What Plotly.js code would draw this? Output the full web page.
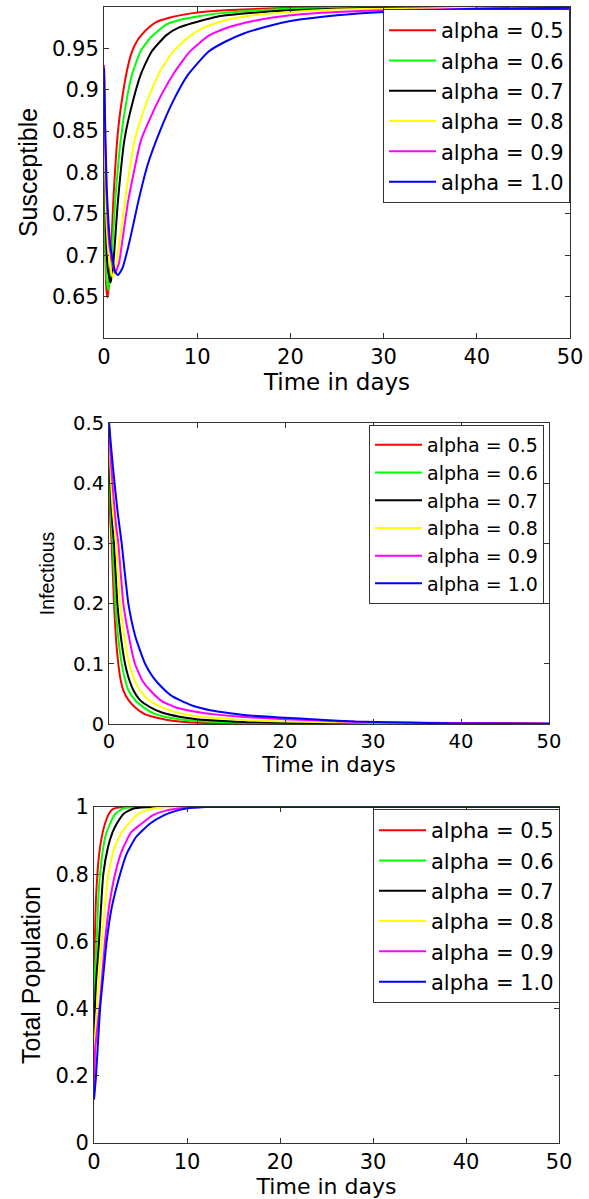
<!DOCTYPE html>
<html>
<head>
<meta charset="utf-8">
<script src="https://cdn.plot.ly/plotly-3.0.1.min.js"></script>
<style>
html,body{margin:0;padding:0;background:#fff;}
#chart{width:589px;height:1199px;}
</style>
</head>
<body>
<div id="chart"></div>
<script>
// ---------- Data ----------
const seriesNames = ["alpha = 0.5", "alpha = 0.6", "alpha = 0.7", "alpha = 0.8", "alpha = 0.9", "alpha = 1.0"];
const seriesColors = ["#ff0000", "#00ff00", "#000000", "#ffff00", "#ff00ff", "#0000ff"];

// Susceptible
const tS05 = [0, 0.05, 0.15, 0.25, 0.36, 0.5, 0.75, 1.0, 1.5, 1.9, 2.5, 3, 3.5, 4, 5, 5.65, 7, 9.2, 11.4, 15, 20, 30, 50];
const S05  = [0.93, 0.80, 0.70, 0.66, 0.649, 0.66, 0.70, 0.766, 0.85, 0.886, 0.925, 0.946, 0.958, 0.966, 0.977, 0.982, 0.987, 0.992, 0.995, 0.997, 0.999, 1.0, 1.0];
const tS06 = [0, 0.05, 0.15, 0.3, 0.46, 0.7, 1.0, 1.2, 1.8, 2.4, 3, 3.9, 5, 6.7, 8, 10.3, 12, 15, 20, 30, 50];
const S06  = [0.93, 0.82, 0.72, 0.67, 0.658, 0.68, 0.73, 0.766, 0.84, 0.886, 0.918, 0.946, 0.963, 0.979, 0.984, 0.989, 0.992, 0.995, 0.998, 0.999, 1.0];
const tS07 = [0, 0.05, 0.2, 0.45, 0.72, 1.0, 1.5, 2.2, 3.1, 4, 5.1, 6.7, 8, 10.3, 12, 15, 20, 30, 50];
const S07  = [0.93, 0.84, 0.73, 0.68, 0.667, 0.69, 0.766, 0.84, 0.886, 0.92, 0.946, 0.966, 0.975, 0.983, 0.988, 0.992, 0.996, 0.999, 1.0];
const tS08 = [0, 0.05, 0.2, 0.5, 0.93, 1.3, 1.7, 2.25, 3.3, 4.6, 6, 7.4, 9, 10.7, 13, 16, 20, 25, 30, 40, 50];
const S08  = [0.93, 0.86, 0.76, 0.70, 0.673, 0.69, 0.72, 0.766, 0.84, 0.886, 0.922, 0.946, 0.963, 0.975, 0.984, 0.99, 0.994, 0.997, 0.998, 0.999, 1.0];
const tS09 = [0, 0.05, 0.25, 0.6, 1.18, 1.6, 2.0, 2.6, 4, 5.8, 7.5, 9.2, 11.2, 13, 16, 20, 25, 30, 40, 50];
const S09  = [0.93, 0.88, 0.78, 0.71, 0.679, 0.69, 0.72, 0.766, 0.84, 0.886, 0.92, 0.946, 0.965, 0.974, 0.983, 0.99, 0.994, 0.996, 0.998, 0.999];
const tS10 = [0, 0.1, 0.3, 0.7, 1.2, 1.5, 2.0, 2.6, 3.2, 3.7, 4.7, 6, 7.4, 9, 11.2, 13, 15, 18, 20, 25, 30, 35, 40, 50];
const S10  = [0.926, 0.87, 0.78, 0.71, 0.68, 0.676, 0.685, 0.71, 0.74, 0.766, 0.81, 0.85, 0.886, 0.918, 0.946, 0.958, 0.968, 0.978, 0.983, 0.99, 0.994, 0.996, 0.998, 0.999];

// Infectious
const tI05 = [0, 0.05, 0.15, 0.3, 0.57, 0.8, 1.06, 1.3, 1.63, 2.2, 2.95, 4, 5, 6.5, 8, 10, 15, 50];
const I05  = [0.5, 0.4, 0.34, 0.3, 0.2, 0.14, 0.1, 0.075, 0.056, 0.04, 0.028, 0.017, 0.012, 0.007, 0.004, 0.002, 0.001, 0.0001];
const tI06 = [0, 0.08, 0.2, 0.42, 0.72, 1.0, 1.44, 1.8, 2.2, 3, 3.9, 5, 6.3, 8, 10, 13, 20, 50];
const I06  = [0.5, 0.41, 0.35, 0.3, 0.2, 0.15, 0.1, 0.075, 0.056, 0.039, 0.028, 0.018, 0.012, 0.008, 0.005, 0.003, 0.001, 0.0002];
const tI07 = [0, 0.1, 0.3, 0.57, 0.95, 1.3, 1.82, 2.2, 2.77, 3.5, 4.66, 6, 8, 10, 13, 16, 20, 30, 50];
const I07  = [0.5, 0.42, 0.35, 0.3, 0.2, 0.15, 0.1, 0.078, 0.056, 0.04, 0.028, 0.019, 0.012, 0.008, 0.005, 0.003, 0.002, 0.001, 0.0003];
const tI08 = [0, 0.15, 0.4, 0.8, 1.25, 1.7, 2.3, 2.9, 3.5, 4.5, 6, 8, 10, 13, 16, 20, 30, 50];
const I08  = [0.5, 0.43, 0.36, 0.3, 0.2, 0.15, 0.1, 0.073, 0.056, 0.04, 0.028, 0.018, 0.013, 0.009, 0.006, 0.004, 0.002, 0.0008];
const tI09 = [0, 0.2, 0.5, 0.8, 1.06, 1.63, 2.2, 2.95, 3.8, 4.66, 6, 7.7, 10, 12, 15, 20, 25, 30, 40, 50];
const I09  = [0.5, 0.44, 0.38, 0.33, 0.3, 0.2, 0.15, 0.1, 0.072, 0.056, 0.038, 0.027, 0.02, 0.016, 0.012, 0.008, 0.005, 0.003, 0.0015, 0.001];
const tI10 = [0, 0.3, 0.7, 1.0, 1.44, 2.2, 3, 4.1, 5, 6.2, 7, 8, 9.6, 11.5, 13.75, 16, 19.4, 24, 28, 35, 40, 50];
const I10  = [0.5, 0.45, 0.39, 0.35, 0.3, 0.2, 0.145, 0.1, 0.078, 0.058, 0.048, 0.04, 0.03, 0.023, 0.018, 0.014, 0.011, 0.007, 0.004, 0.002, 0.001, 0.0005];

// Total Population
const tN05 = [0, 0.02, 0.05, 0.1, 0.2, 0.36, 0.6, 0.9, 1.18, 1.6, 2.1, 3, 5, 50];
const N05  = [0.13, 0.4, 0.55, 0.62, 0.72, 0.8, 0.87, 0.92, 0.95, 0.98, 0.995, 0.999, 1, 1];
const tN06 = [0, 0.03, 0.1, 0.29, 0.45, 0.65, 1.0, 1.3, 1.72, 2.3, 3.1, 4, 6, 50];
const N06  = [0.13, 0.35, 0.5, 0.6, 0.72, 0.8, 0.88, 0.92, 0.95, 0.98, 0.995, 0.999, 1, 1];
const tN07 = [0, 0.05, 0.2, 0.54, 0.75, 1.0, 1.5, 2.0, 2.44, 3.2, 4.2, 5.5, 8, 50];
const N07  = [0.13, 0.33, 0.47, 0.6, 0.7, 0.8, 0.88, 0.925, 0.95, 0.98, 0.995, 0.999, 1, 1];
const tN08 = [0, 0.08, 0.35, 0.82, 1.15, 1.54, 2.2, 3.0, 3.7, 4.8, 6.2, 8, 10, 50];
const N08  = [0.13, 0.3, 0.42, 0.6, 0.7, 0.8, 0.88, 0.925, 0.95, 0.98, 0.995, 0.999, 1, 1];
const tN09 = [0, 0.1, 0.3, 0.65, 1.18, 1.6, 2.26, 3.0, 4.0, 5.1, 6.3, 7.8, 10, 12, 50];
const N09  = [0.13, 0.27, 0.33, 0.42, 0.6, 0.7, 0.8, 0.87, 0.925, 0.95, 0.975, 0.99, 0.998, 1, 1];
const tN10 = [0, 0.22, 0.65, 1.0, 1.36, 1.9, 2.8, 3.5, 4.5, 6.0, 7.5, 9, 10.3, 12, 50];
const N10  = [0.13, 0.2, 0.4, 0.5, 0.6, 0.7, 0.8, 0.86, 0.91, 0.95, 0.975, 0.99, 0.997, 1, 1];

// Tick labels
const xTicks = [0, 10, 20, 30, 40, 50];
const sTicks = [0.65, 0.7, 0.75, 0.8, 0.85, 0.9, 0.95];
const sTickText = ["0.65", "0.7", "0.75", "0.8", "0.85", "0.9", "0.95"];
const iTicks = [0, 0.1, 0.2, 0.3, 0.4, 0.5];
const iTickText = ["0", "0.1", "0.2", "0.3", "0.4", "0.5"];
const nTicks = [0, 0.2, 0.4, 0.6, 0.8, 1];
const nTickText = ["0", "0.2", "0.4", "0.6", "0.8", "1"];

// ---------- Build traces ----------
const panels = [
  {ts:[tS05,tS06,tS07,tS08,tS09,tS10], ys:[S05,S06,S07,S08,S09,S10], xa:"x",  ya:"y",  lg:"legend"},
  {ts:[tI05,tI06,tI07,tI08,tI09,tI10], ys:[I05,I06,I07,I08,I09,I10], xa:"x2", ya:"y2", lg:"legend2"},
  {ts:[tN05,tN06,tN07,tN08,tN09,tN10], ys:[N05,N06,N07,N08,N09,N10], xa:"x3", ya:"y3", lg:"legend3"}
];
const traces = [];
panels.forEach(p => {
  for (let k = 0; k < 6; k++) {
    traces.push({
      type: "scatter", mode: "lines",
      x: p.ts[k], y: p.ys[k],
      name: seriesNames[k],
      line: {color: seriesColors[k], width: 2, shape: "spline", smoothing: 0.5},
      xaxis: p.xa, yaxis: p.ya, legend: p.lg
    });
  }
});

// ---------- Layout ----------
const W = 589, H = 1199;
const fx = px => px / W;
const fy = py => 1 - py / H;
function axBase(extra, tsize) {
  return Object.assign({
    showline: true, linecolor: "#333", linewidth: 1, mirror: "ticks",
    ticks: "inside", ticklen: 5, tickcolor: "#333", tickwidth: 1,
    showgrid: false, zeroline: false,
    tickfont: {family: "DejaVu Sans", size: tsize, color: "#000"},
    fixedrange: true, automargin: false
  }, extra);
}
function xTitle(size, standoff) {
  return {text: "Time in days", font: {family: "DejaVu Sans", size: size, color: "#000"}, standoff: standoff};
}
function yTitle(text, size, standoff) {
  return {text: text, font: {family: "Liberation Sans", size: size, color: "#000"}, standoff: standoff};
}
function legendBox(right, top, size) {
  return {
    x: fx(right), y: fy(top), xanchor: "right", yanchor: "top",
    bgcolor: "#fff", bordercolor: "#333", borderwidth: 1,
    font: {family: "DejaVu Sans", size: size, color: "#000"},
    itemwidth: 47, tracegroupgap: 0
  };
}

const layout = {
  width: W, height: H,
  margin: {l: 0, r: 0, t: 0, b: 0},
  paper_bgcolor: "#fff", plot_bgcolor: "#fff",
  showlegend: true,
  xaxis: axBase({domain: [fx(104), fx(570)], range: [0, 50], anchor: "y",
    tickvals: xTicks, title: xTitle(23, 0)}, 21),
  yaxis: axBase({domain: [fy(338), fy(7)], range: [0.6, 1.0], anchor: "x",
    tickvals: sTicks, ticktext: sTickText,
    title: yTitle("Susceptible", 25, 7)}, 21),
  xaxis2: axBase({domain: [fx(109), fx(549)], range: [0, 50], anchor: "y2",
    tickvals: xTicks, title: xTitle(21, 0)}, 19.5),
  yaxis2: axBase({domain: [fy(724), fy(423)], range: [0, 0.5], anchor: "x2",
    tickvals: iTicks, ticktext: iTickText,
    title: yTitle("Infectious", 19.5, 13)}, 19.5),
  xaxis3: axBase({domain: [fx(94), fx(559)], range: [0, 50], anchor: "y3",
    tickvals: xTicks, title: xTitle(22, 2)}, 21),
  yaxis3: axBase({domain: [fy(1143), fy(807)], range: [0, 1], anchor: "x3",
    tickvals: nTicks, ticktext: nTickText,
    title: yTitle("Total Population", 25, 7)}, 21),
  legend: legendBox(570, 9, 21),
  legend2: legendBox(544, 425, 19),
  legend3: legendBox(560, 809, 21)
};

Plotly.newPlot("chart", traces, layout, {displayModeBar: false, staticPlot: true});
</script>
</body>
</html>
